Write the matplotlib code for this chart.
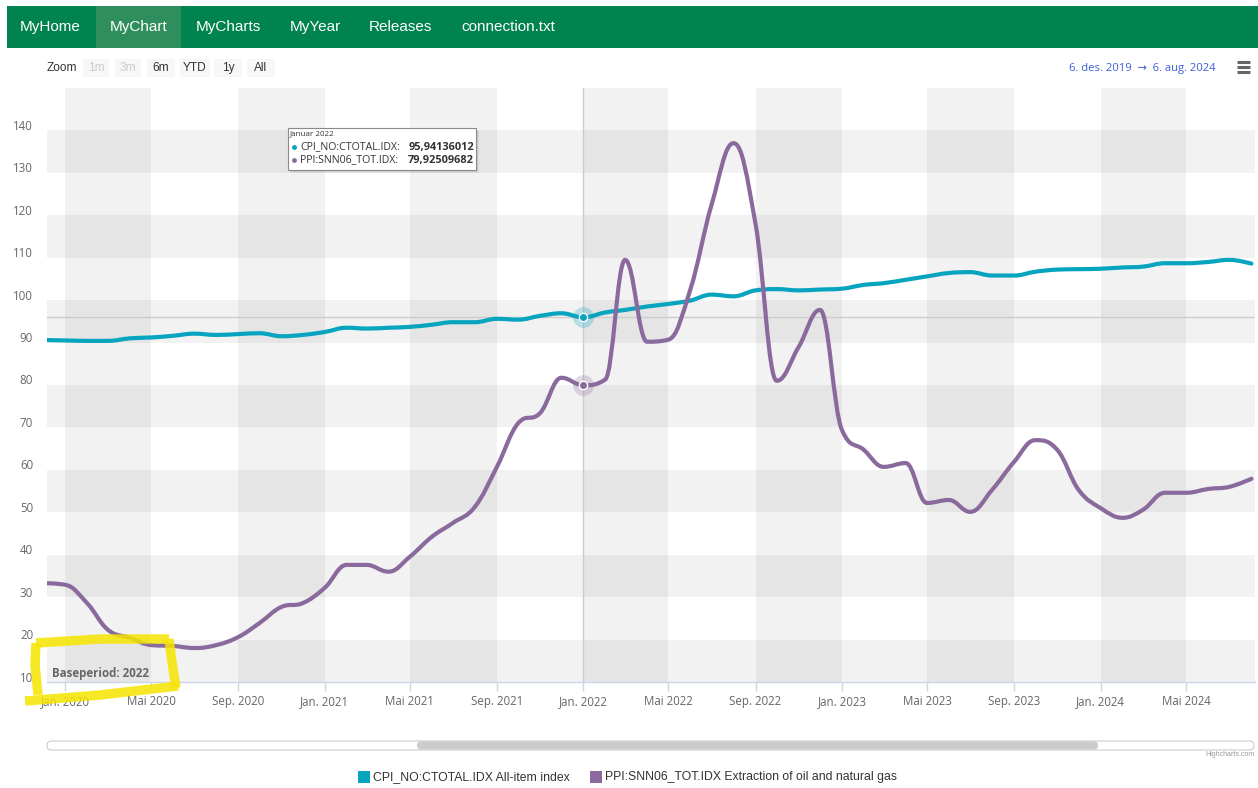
import numpy as np
import pandas as pd
import matplotlib
matplotlib.use("Agg")
import matplotlib.pyplot as plt
import matplotlib.dates as mdates
import matplotlib.transforms as mtransforms
from matplotlib.path import Path
from matplotlib.patches import PathPatch, Rectangle, FancyBboxPatch

# monthly data, Dec 2019 - Aug 2024
months = pd.date_range("2019-12-01", "2024-08-01", freq="MS")

cpi = [90.6, 90.5, 90.4, 90.4, 91.0, 91.2, 91.6, 92.1, 91.8, 92.0, 92.2, 91.5, 91.8,
       92.5, 93.5, 93.3, 93.5, 93.7, 94.2, 94.8, 94.8, 95.6, 95.4, 96.3, 96.9,
       95.94136012, 97.1, 97.7, 98.5, 99.1, 99.9, 101.3, 100.9, 102.3, 102.6, 102.3, 102.5,
       102.7, 103.6, 104.0, 104.8, 105.6, 106.4, 106.6, 105.8, 105.8, 106.7, 107.2, 107.3,
       107.4, 107.7, 107.9, 108.7, 108.7, 109.0, 109.5, 108.6]

ppi = [33.3, 32.9, 28.5, 22.3, 20.4, 18.7, 18.5, 18.0, 18.7, 20.6, 23.9, 27.7, 28.6,
       32.2, 37.6, 37.6, 36.0, 39.5, 44.2, 47.5, 51.3, 60.7, 71.0, 73.4, 81.7,
       79.92509682, 81.3, 109.5, 90.2, 90.7, 102.5, 122.5, 137.0, 118.0, 81.0, 89.0, 97.7,
       69.4, 64.7, 60.7, 61.6, 52.2, 52.9, 50.1, 55.3, 61.9, 67.0, 64.7, 55.3,
       51.0, 48.7, 50.6, 54.6, 54.6, 55.5, 56.0, 57.9]

series_names = ["CPI_NO:CTOTAL.IDX", "PPI:SNN06_TOT.IDX"]
legend_labels = ["CPI_NO:CTOTAL.IDX All-item index",
                 "PPI:SNN06_TOT.IDX Extraction of oil and natural gas"]
colors = ["#07a4c0", "#8a6a9d"]

x_start, x_end = "2019-12-06", "2024-08-06"
tick_months = {1: "Jan.", 5: "Mai", 9: "Sep."}
month_names = ["Januar", "Februar", "Mars", "April", "Mai", "Juni", "Juli",
               "August", "September", "Oktober", "November", "Desember"]
y_ticks = list(range(10, 150, 10))
hover_idx = 25  # Jan 2022

nav_items = ["MyHome", "MyChart", "MyCharts", "MyYear", "Releases", "connection.txt"]
zoom_buttons = ["1m", "3m", "6m", "YTD", "1y", "All"]

W, H = 1258, 788
FONT = ["Open Sans", "DejaVu Sans"]


def spline_path(xs, ys, smoothing=1.5):
    # highcharts style spline -> cubic bezier path
    n = len(xs)
    left = [None] * n
    right = [None] * n
    for i in range(n):
        x, y = xs[i], ys[i]
        if 0 < i < n - 1:
            px, py = xs[i - 1], ys[i - 1]
            nx, ny = xs[i + 1], ys[i + 1]
            d = smoothing + 1
            lx, ly = (smoothing * x + px) / d, (smoothing * y + py) / d
            rx, ry = (smoothing * x + nx) / d, (smoothing * y + ny) / d
            corr = 0.0
            if rx != lx:
                corr = (ry - ly) * (rx - x) / (rx - lx) + y - ry
            ly += corr
            ry += corr
            if ly > py and ly > y:
                ly = max(py, y); ry = 2 * y - ly
            elif ly < py and ly < y:
                ly = min(py, y); ry = 2 * y - ly
            if ry > ny and ry > y:
                ry = max(ny, y); ly = 2 * y - ry
            elif ry < ny and ry < y:
                ry = min(ny, y); ly = 2 * y - ry
            left[i], right[i] = (lx, ly), (rx, ry)
        else:
            left[i] = right[i] = (x, y)
    verts = [(xs[0], ys[0])]
    codes = [Path.MOVETO]
    for i in range(1, n):
        verts += [right[i - 1], left[i], (xs[i], ys[i])]
        codes += [Path.CURVE4] * 3
    return Path(verts, codes)


fig = plt.figure(figsize=(W / 100, H / 100), dpi=100)
fig.patch.set_facecolor("white")

# main plot area (pixels 47..1255, 88..682)
ax = fig.add_axes([47 / W, 1 - 682 / H, 1208 / W, 594 / H])
ax.set_facecolor("white")
x0, x1 = pd.Timestamp(x_start), pd.Timestamp(x_end)
ax.set_xlim(x0, x1)
ax.set_ylim(10, 150)

# alternating bands
for v in y_ticks[::2]:
    ax.axhspan(v, v + 10, color="black", alpha=0.051, lw=0, zorder=0)
band_starts = pd.date_range("2020-01-01", "2024-05-01", freq="8MS")
for b in band_starts:
    ax.axvspan(b, b + pd.DateOffset(months=4), color="black", alpha=0.051, lw=0, zorder=0)

xs = mdates.date2num(months.to_pydatetime())
for vals, c in zip([cpi, ppi], colors):
    ax.add_patch(PathPatch(spline_path(xs, vals), fill=False, edgecolor=c,
                           lw=3.0, capstyle="round", joinstyle="round", zorder=3))

# crosshair + hover markers
hx = months[hover_idx]
ax.axvline(hx, color="#cccccc", lw=1, zorder=2)
ax.axhline(cpi[hover_idx], color="#cccccc", lw=1, zorder=2)
for vals, c in zip([cpi, ppi], colors):
    ax.plot([hx], [vals[hover_idx]], "o", ms=15, color=c, alpha=0.25, mec="none", zorder=4)
    ax.plot([hx], [vals[hover_idx]], "o", ms=6, color=c, mec="white", mew=1, zorder=5)

# axes styling
for s in ["top", "right", "left"]:
    ax.spines[s].set_visible(False)
ax.spines["bottom"].set_color("#ccd6eb")
ax.spines["bottom"].set_linewidth(1)

tick_dates = [d for d in pd.date_range("2020-01-01", "2024-08-01", freq="MS") if d.month in tick_months]
ax.set_xticks(tick_dates)
ax.set_xticklabels([f"{tick_months[d.month]} {d.year}" for d in tick_dates],
                   fontsize=8.3, color="#666666", family=FONT)
ax.tick_params(axis="x", length=6.3, width=1, color="#ccd6eb", pad=3)

ax.set_yticks(y_ticks)
ax.set_yticklabels([str(v) for v in y_ticks], fontsize=8.3, color="#666666", family=FONT)
ax.tick_params(axis="y", length=0, pad=10)
shift = mtransforms.ScaledTranslation(0, 0.055, fig.dpi_scale_trans)
for lab in ax.get_yticklabels():
    lab.set_transform(lab.get_transform() + shift)

# overlay in pixel coordinates for the page chrome
ov = fig.add_axes([0, 0, 1, 1], zorder=10)
ov.set_xlim(0, W)
ov.set_ylim(H, 0)
ov.axis("off")
ov.patch.set_alpha(0)

# nav bar
ov.add_patch(Rectangle((7, 6), W - 7, 42, color="#00834f", lw=0))
ov.add_patch(Rectangle((96, 6), 85, 42, color="#2f8f5c", lw=0))
nav_x = [20, 110, 196, 290, 369, 461]
for t, xx in zip(nav_items, nav_x):
    ov.text(xx, 27, t, color="white", fontsize=11, family="Liberation Sans", va="center")

# range selector
ov.text(47, 68, "Zoom", fontsize=8.6, color="#333333", family="Liberation Sans", va="center")
btn_x = [83, 115, 147, 180, 214, 247]
btn_w = [26, 26, 28, 30, 28, 28]
for t, bx, bw in zip(zoom_buttons, btn_x, btn_w):
    ov.add_patch(Rectangle((bx, 59), bw, 18, color="#f7f7f7", lw=0))
    tc = "#cccccc" if t in ("1m", "3m") else "#333333"
    ov.text(bx + bw / 2, 68, t, fontsize=8.6, color=tc, ha="center", va="center",
            family="Liberation Sans")
ov.text(1216, 68, "6. des. 2019  \u2192  6. aug. 2024", fontsize=8.1, color="#3d5fd6",
        ha="right", va="center", family=FONT)
for yy in (62, 67, 72):
    ov.plot([1237, 1250], [yy, yy], color="#666666", lw=2.2, solid_capstyle="butt")

# tooltip
for k in range(3):
    ov.add_patch(Rectangle((288 + 1 + k, 128 + 1 + k), 188, 42, color="black",
                           alpha=0.06, lw=0))
ov.add_patch(Rectangle((288, 128), 188, 42, facecolor="white", edgecolor="#8a8a8a", lw=0.8))
ov.text(290, 134, f"{month_names[hx.month - 1]} {hx.year}", fontsize=5.8, color="#333333",
        va="center", family=FONT)
for k, (name, vals, c) in enumerate(zip(series_names, [cpi, ppi], colors)):
    yy = 147 + k * 13
    ov.plot([294], [yy], "o", ms=3.5, color=c, mec="none")
    ov.text(300, yy, name + ":", fontsize=7.6, color="#333333", va="center", family=FONT)
    ov.text(474, yy, f"{vals[hover_idx]:.8f}".replace(".", ","), fontsize=7.9,
            color="#333333", va="center", ha="right", weight="bold", family=FONT)

# base period label + yellow highlight
ov.text(52, 673, "Baseperiod: 2022", fontsize=8.3, weight="bold", color="#666666",
        va="center", family=FONT)
strokes = [[(25, 701), (100, 695), (178, 686)],
           [(38, 695), (35, 665), (36, 643)],
           [(36, 643), (100, 639), (169, 639)],
           [(169, 639), (172, 662), (176, 688)]]
for st in strokes:
    sx, sy = zip(*st)
    ov.plot(sx, sy, color="#f6e500", lw=6.8, alpha=0.85, solid_capstyle="butt",
            solid_joinstyle="round")

# scrollbar
ov.add_patch(FancyBboxPatch((47, 741), 1207, 9, boxstyle="round,pad=0,rounding_size=4.5",
                            facecolor="white", edgecolor="#cccccc", lw=0.8))
ov.add_patch(FancyBboxPatch((417, 741.5), 681, 8, boxstyle="round,pad=0,rounding_size=4",
                            facecolor="#cccccc", edgecolor="none"))
ov.text(1255, 755, "Highcharts.com", fontsize=5, color="#999999", ha="right", va="center",
        family="Liberation Sans")

# legend
leg_x = [358, 590]
for lx, lab, c in zip(leg_x, legend_labels, colors):
    ov.add_patch(Rectangle((lx, 771), 12, 12, color=c, lw=0))
    ov.text(lx + 15, 777, lab, fontsize=8.85, color="#333333", va="center",
            family="Liberation Sans")

fig.savefig("out.png", dpi=100)
